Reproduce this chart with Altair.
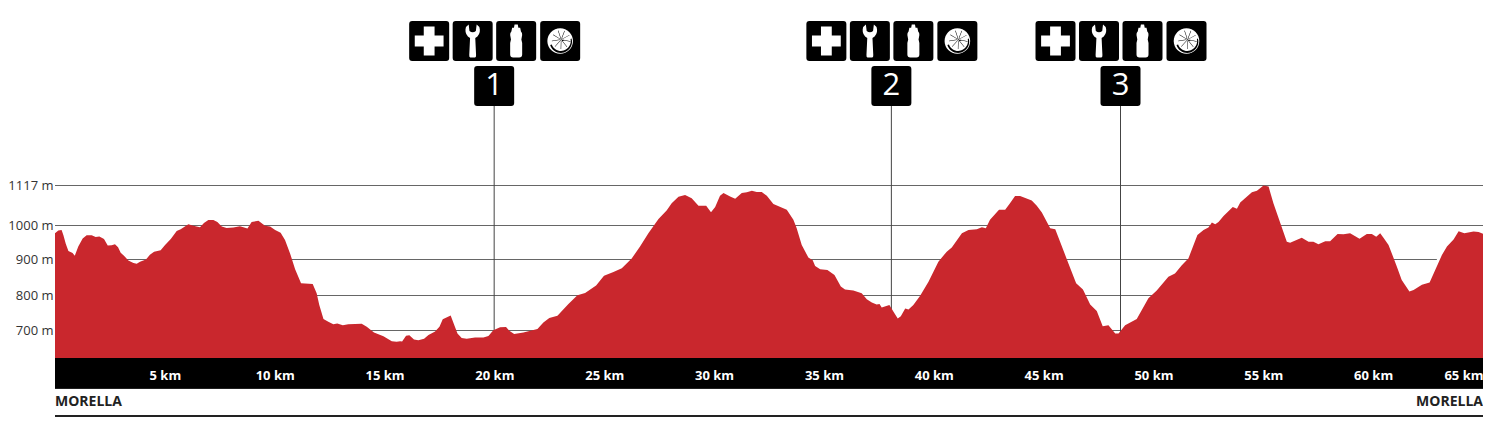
import math
import altair as alt
import pandas as pd

km = [0.0,0.15,0.30,0.38,0.49,0.61,0.80,0.90,1.06,1.26,1.44,1.67,1.85,2.02,2.23,2.40,2.58,2.73,2.87,2.99,3.14,3.34,3.57,3.72,3.87,4.14,4.32,4.51,4.81,5.01,5.27,5.54,5.72,6.07,6.30,6.60,6.78,6.98,7.21,7.39,7.59,7.81,8.12,8.42,8.76,8.95,9.26,9.56,9.79,10.02,10.27,10.47,10.70,10.93,11.20,11.73,11.91,12.03,12.22,12.44,12.67,12.85,13.10,13.35,13.96,14.19,14.52,14.95,15.33,15.55,15.71,15.80,15.98,16.13,16.34,16.54,16.80,17.00,17.30,17.50,17.65,18.01,18.16,18.32,18.51,18.74,19.12,19.50,19.73,19.95,20.26,
      20.53,20.68,20.90,21.32,21.96,22.23,22.50,22.87,23.37,23.78,24.13,24.63,24.99,25.42,25.80,26.25,26.63,27.01,27.47,27.84,28.07,28.38,28.68,28.98,29.29,29.64,29.86,30.05,30.27,30.43,30.73,30.96,31.26,31.49,31.72,31.94,32.17,32.40,32.70,33.31,33.61,33.76,33.99,34.29,34.49,34.60,34.83,35.16,35.48,35.77,35.96,36.34,36.72,36.95,37.18,37.40,37.53,37.63,37.98,38.16,38.36,38.50,38.70,38.85,39.07,39.38,39.76,40.21,40.59,40.82,41.28,41.58,41.96,42.19,42.37,42.56,42.97,
      43.25,43.47,43.70,43.93,44.46,44.69,44.92,45.30,45.53,45.75,46.13,46.48,46.79,47.12,47.42,47.69,47.95,48.26,48.41,48.71,49.24,49.77,50.15,50.68,50.98,51.29,51.59,52.00,52.28,52.50,52.66,52.81,52.96,53.19,53.61,53.80,53.95,54.48,54.71,55.01,55.24,55.46,56.07,56.22,56.75,57.06,57.28,57.51,57.82,58.04,58.38,58.65,58.95,59.38,59.71,59.94,60.14,60.32,60.47,60.70,61.08,61.30,61.65,61.84,62.22,62.57,63.13,63.36,63.66,63.89,64.15,64.57,64.80,65.0]
elev = [977,985,987,972,946,925,919,911,938,962,971,971,966,968,960,941,942,945,936,920,911,897,890,888,894,900,914,923,927,943,960,984,989,1004,999,995,1007,1016,1016,1010,997,993,994,998,991,1010,1014,999,997,987,979,957,918,873,834,832,806,773,733,725,718,720,715,718,719,711,694,683,669,667,669,668,685,686,674,672,676,687,697,711,732,743,718,691,678,676,680,680,684,701,709,
        710,699,690,694,704,723,736,742,776,801,807,828,855,865,876,903,938,977,1019,1044,1065,1084,1089,1080,1058,1058,1039,1054,1087,1095,1085,1078,1095,1097,1102,1098,1098,1087,1063,1046,1017,992,943,906,898,882,873,871,857,825,817,814,806,789,780,774,776,766,773,754,734,741,763,760,773,799,838,894,923,935,977,987,989,995,992,1017,1046,
        1046,1065,1086,1086,1073,1058,1038,992,989,952,889,834,817,774,756,712,715,691,691,715,733,792,814,852,861,884,903,972,987,994,1009,1004,1010,1028,1054,1049,1067,1097,1102,1117,1114,1065,952,949,964,952,952,945,954,954,975,974,977,961,975,975,967,977,964,943,880,843,811,815,830,836,913,938,959,983,977,982,981,976]

grid_levels = [700, 800, 900, 1000, 1117]
grid_ends = [65, 65, 62.9, 65, 65]
km_ticks = [5, 10, 15, 20, 25, 30, 35, 40, 45, 50, 55, 60, 65]
station_km = [19.99, 38.07, 48.5]
station_no = ["1", "2", "3"]
place_km = [0, 65]
place_name = ["MORELLA", "MORELLA"]
place_align = ["left", "right"]

BASE = 620
RED = "#c9272d"
profile = pd.DataFrame({"km": km, "elev": elev, "base": [BASE] * len(km)})
grid = pd.DataFrame({"level": grid_levels, "start": [0] * 5, "end": grid_ends})
stations = pd.DataFrame({"km": station_km, "no": station_no})

x_scale = alt.Scale(domain=[0, 65], range=[0, 1428], nice=False, zero=False)
y_scale = alt.Scale(domain=[BASE, 700, 800, 900, 1000, 1117],
                    range=[350, 322.5, 287.5, 251.5, 217.5, 177.5], nice=False, zero=False)
x_axis = alt.Axis(
    values=km_ticks, labelExpr="datum.value + ' km'", title=None, grid=False, domain=False, ticks=False,
    labelColor="white", labelFont="Open Sans", labelFontWeight="bold", labelFontSize=13,
    labelPadding=0, labelBaseline="middle", labelFlush=True, labelBound=False, offset=-48, zindex=2)
y_axis = alt.Axis(
    values=grid_levels, labelExpr="datum.value + ' m'", title=None, grid=False, domain=False, ticks=False,
    labelColor="#333333", labelFont="Open Sans", labelFontSize=13, labelPadding=2)


def X(field):
    return alt.X(field, scale=x_scale, axis=x_axis)


def Y(field):
    return alt.Y(field, scale=y_scale, axis=y_axis)


TILE = "M-.85 -1H.85Q1 -1 1 -.85V.85Q1 1 .85 1H-.85Q-1 1 -1 .85V-.85Q-1 -1 -.85 -1Z"
CROSS = "M-.27 -.72H.27V-.27H.72V.27H.27V.72H-.27V.27H-.72V-.27H-.27Z"
WRENCH = ("M-.12 .83L.12 .83Q.18 .8 .17 .7L.13 -.15Q.38 -.3 .36 -.58Q.34 -.75 .2 -.83L.16 -.5"
          "Q0 -.38 -.16 -.5L-.2 -.83Q-.34 -.75 -.36 -.58Q-.38 -.3 -.13 -.15L-.17 .7Q-.18 .8 -.12 .83Z")
BOTTLE = ("M-.08 -.83H.08L.11 -.66H.2L.24 -.48Q.31 -.42 .3 -.3L.26 -.08L.3 .1V.68Q.3 .83 .15 .83H-.15"
          "Q-.3 .83 -.3 .68V.1L-.26 -.08L-.3 -.3Q-.31 -.42 -.24 -.48L-.2 -.66H-.11Z")
DISC = "M-.64 0A.64 .64 0 1 1 .64 0A.64 .64 0 1 1 -.64 0Z"


def citrus_details():
    cx, cy, r = 0.05, -0.07, 0.47
    parts = []
    for i in range(9):
        a = 2 * math.pi * i / 9 + 0.2
        ex, ey = cx + r * math.cos(a), cy + r * math.sin(a)
        nx, ny = -math.sin(a) * 0.012, math.cos(a) * 0.012
        parts.append(f"M{cx + nx:.3f} {cy + ny:.3f}L{ex + nx:.3f} {ey + ny:.3f}L{ex - nx:.3f} {ey - ny:.3f}L{cx - nx:.3f} {cy - ny:.3f}Z")
    parts.append(f"M{cx - .07:.3f} {cy:.3f}A.07 .07 0 1 1 {cx + .07:.3f} {cy:.3f}A.07 .07 0 1 1 {cx - .07:.3f} {cy:.3f}Z")
    parts.append("M-.5 .2A.54 .54 0 0 0 .57 -.12L.52 -.1A.49 .49 0 0 1 -.42 .17Z")
    return "".join(parts)


def icon(path, color, offset, y=33, size=1600):
    return alt.Chart(stations).mark_point(
        shape=path, filled=True, fill=color, size=size, opacity=1, strokeWidth=0, xOffset=offset
    ).encode(x=X("km:Q"), y=alt.value(y))


grid_rules = alt.Chart(grid).mark_rule(color="#666666", strokeWidth=1).encode(
    y=Y("level:Q"), x=X("start:Q"), x2="end:Q"
)
station_rules = alt.Chart(stations).mark_rule(color="#444444", strokeWidth=1).encode(
    x=X("km:Q"), y=alt.value(98), y2=alt.value(350)
)
area = alt.Chart(profile).mark_area(color=RED, opacity=1, interpolate="linear").encode(
    x=X("km:Q"), y=Y("elev:Q"), y2="base:Q"
)
band = alt.Chart(stations).mark_rect(color="black").encode(
    x=alt.value(0), x2=alt.value(1428), y=alt.value(350), y2=alt.value(380.5)
)
foot = alt.Chart(stations).mark_rect(color="#222222").encode(
    x=alt.value(0), x2=alt.value(1429), y=alt.value(407), y2=alt.value(409)
)

layers = [grid_rules, station_rules, area, band, foot]
for off in (-65, -21.5, 22, 66):
    layers.append(icon(TILE, "black", off))
layers += [
    icon(CROSS, "white", -65),
    icon(WRENCH, "white", -21.5),
    icon(BOTTLE, "white", 22),
    icon(DISC, "white", 66),
    icon(citrus_details(), "black", 66),
    icon(TILE, "black", 0, y=78),
]
numbers = alt.Chart(stations).mark_text(
    color="white", font="Open Sans", fontSize=31, fontWeight=400, baseline="middle", align="center"
).encode(x=X("km:Q"), y=alt.value(78), text="no:N")
names = alt.Chart(pd.DataFrame({"km": place_km, "name": place_name, "al": place_align}))
for al in ("left", "right"):
    layers.append(
        names.transform_filter(alt.datum.al == al).mark_text(
            color="#222222", font="Open Sans", fontSize=14, fontWeight="bold", align=al, baseline="middle"
        ).encode(x=X("km:Q"), y=alt.value(394), text="name:N")
    )
layers.append(numbers)

chart = alt.layer(*layers).properties(
    width=1428, height=415,
    autosize=alt.AutoSizeParams(type="none"),
    padding={"left": 47, "top": 0, "right": 0, "bottom": 0},
    background="white",
).configure_view(stroke=None)

chart.save("out.html", embed_options={"renderer": "svg", "actions": False})
